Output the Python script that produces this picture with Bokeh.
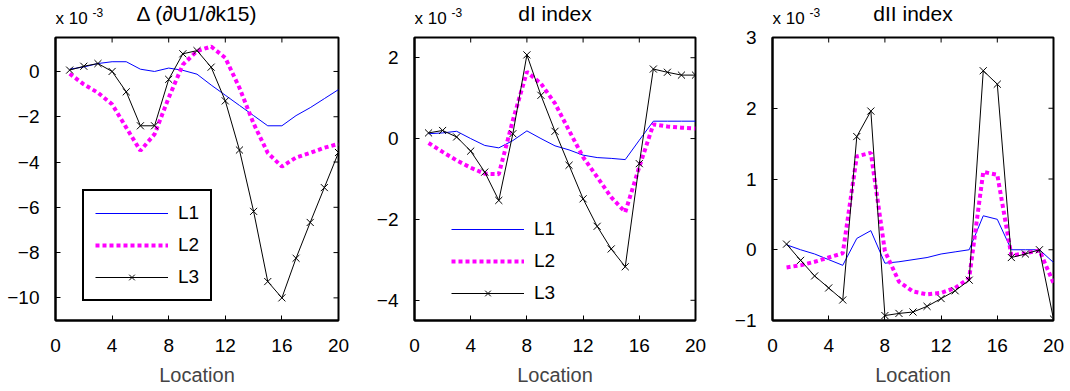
import math
from bokeh.plotting import figure
from bokeh.models import Range1d, FixedTicker
from bokeh.layouts import row, column
from bokeh.core.properties import value
from bokeh.embed import file_html
from bokeh.resources import INLINE

FONT = "Liberation Sans"

location = list(range(1, 21))
x_ticks = [0, 4, 8, 12, 16, 20]

titles = ["\u0394 (\u2202U1/\u2202k15)", "dI index", "dII index"]
scale_text = "x 10"
scale_exp = "-3"
series_names = ["L1", "L2", "L3"]

# Panel 1 : Delta (dU1/dk15), values x 1e-3
p1_L1 = [0.1, 0.2, 0.35, 0.43, 0.43, 0.1, 0.0, 0.15, 0.05, -0.12, -0.6, -1.05, -1.5, -1.95, -2.4, -2.4, -1.95, -1.6, -1.2, -0.8]
p1_L2 = [-0.1, -0.57, -0.94, -1.45, -2.48, -3.5, -2.77, -1.16, 0.3, 0.9, 1.1, 0.6, -0.72, -2.3, -3.6, -4.2, -3.8, -3.6, -3.37, -3.2]
p1_L3 = [0.06, 0.23, 0.35, 0.0, -0.9, -2.4, -2.4, -0.35, 0.78, 0.92, 0.19, -1.3, -3.47, -6.18, -9.28, -10.0, -8.25, -6.67, -5.13, -3.58]

# Panel 2 : dI index
p2_L1 = [0.12, 0.14, 0.18, 0.0, -0.17, -0.23, -0.05, 0.19, 0.0, -0.18, -0.28, -0.41, -0.47, -0.49, -0.52, -0.04, 0.43, 0.43, 0.43, 0.43]
p2_L2 = [-0.11, -0.33, -0.54, -0.72, -0.87, -0.88, 0.45, 1.65, 1.36, 0.87, 0.2, -0.46, -0.95, -1.45, -1.82, -0.7, 0.35, 0.3, 0.27, 0.25]
p2_L3 = [0.14, 0.2, 0.04, -0.31, -0.83, -1.53, 0.12, 2.07, 1.07, 0.18, -0.66, -1.49, -2.17, -2.73, -3.17, -0.62, 1.72, 1.64, 1.57, 1.57]

# Panel 3 : dII index
p3_L1 = [0.07, 0.0, -0.06, -0.14, -0.22, 0.16, 0.27, -0.19, -0.17, -0.14, -0.11, -0.06, -0.03, 0.0, 0.48, 0.43, 0.0, 0.0, 0.0, -0.18]
p3_L2 = [-0.25, -0.22, -0.17, -0.11, -0.05, 1.32, 1.37, -0.02, -0.45, -0.59, -0.63, -0.61, -0.54, -0.4, 1.1, 1.06, -0.08, -0.05, -0.01, -0.47]
p3_L3 = [0.08, -0.15, -0.37, -0.54, -0.71, 1.6, 1.96, -0.93, -0.9, -0.88, -0.8, -0.69, -0.58, -0.43, 2.53, 2.34, -0.11, -0.06, 0.0, -0.98]

panels = [
    dict(L1=p1_L1, L2=p1_L2, L3=p1_L3, y_range=(-11, 1.5), y_ticks=[-10, -8, -6, -4, -2, 0],
         width=357, bl=55, br=19, legend="box", leg_loc=(27, 19)),
    dict(L1=p2_L1, L2=p2_L2, L3=p2_L3, y_range=(-4.5, 2.5), y_ticks=[-4, -2, 0, 2],
         width=357, bl=57, br=19, legend="plain", leg_loc=(26, 5)),
    dict(L1=p3_L1, L2=p3_L2, L3=p3_L3, y_range=(-1, 3), y_ticks=[-1, 0, 1, 2, 3],
         width=356, bl=58, br=17, legend=None, leg_loc=None),
]

HEADER_H = 28
FRAME_TOP = 37


def style_axis(ax, ticks):
    ax.ticker = FixedTicker(ticks=ticks)
    ax.major_tick_in = 5
    ax.major_tick_out = 0
    ax.minor_tick_in = 0
    ax.minor_tick_out = 0
    ax.axis_line_color = "black"
    ax.axis_line_width = 2
    ax.major_tick_line_color = "black"
    ax.major_tick_line_width = 1
    ax.major_label_text_font = FONT
    ax.major_label_text_font_size = "19px"
    ax.major_label_text_color = "black"


cols = []
for i, cfg in enumerate(panels):
    ymin, ymax = cfg["y_range"]
    xr = Range1d(0, 20)

    # header with the scale factor and the panel title (y counts pixels down from the top)
    h = figure(width=cfg["width"], height=HEADER_H, output_backend="svg", toolbar_location=None,
               title=None, x_range=xr, y_range=Range1d(HEADER_H, 0),
               x_axis_type=None, y_axis_type=None,
               min_border_left=cfg["bl"], min_border_right=cfg["br"],
               min_border_top=0, min_border_bottom=0)
    h.outline_line_color = None
    h.grid.visible = False
    h.text(x=[0], y=[18], text=[scale_text], text_font=value(FONT),
           text_font_size=value("17px"), text_baseline="middle", text_align="left",
           text_color="black")
    h.text(x=[0], y=[12], text=[scale_exp], x_offset=37, text_font=value(FONT),
           text_font_size=value("12px"), text_baseline="middle", text_align="left",
           text_color="black")
    h.text(x=[10], y=[13], text=[titles[i]], text_font=value(FONT),
           text_font_size=value("21px"), text_baseline="middle", text_align="center",
           text_color="black")

    p = figure(width=cfg["width"], height=391 - HEADER_H, output_backend="svg", toolbar_location=None,
               title=None, x_range=xr, y_range=Range1d(ymin, ymax),
               min_border_left=cfg["bl"], min_border_right=cfg["br"],
               min_border_top=FRAME_TOP - HEADER_H, min_border_bottom=71)
    p.outline_line_color = "black"
    p.outline_line_width = 2
    p.grid.visible = False

    style_axis(p.xaxis[0], x_ticks)
    style_axis(p.yaxis[0], cfg["y_ticks"])
    p.xaxis[0].major_label_standoff = 18
    p.yaxis[0].major_label_standoff = 16
    p.xaxis[0].axis_label = "Location"
    p.xaxis[0].axis_label_text_font = FONT
    p.xaxis[0].axis_label_text_font_style = "normal"
    p.xaxis[0].axis_label_text_font_size = "20px"
    p.xaxis[0].axis_label_standoff = 9

    # inward ticks on the top and right edges of the box
    top_t = x_ticks[1:-1]
    p.scatter(top_t, [ymax] * len(top_t), marker="dash", angle=math.pi / 2, size=10,
              line_color="black", line_width=1)
    p.scatter([20] * len(cfg["y_ticks"]), cfg["y_ticks"], marker="dash", size=10,
              line_color="black", line_width=1)

    kw1, kw2, kw3 = {}, {}, {}
    if cfg["legend"]:
        kw1 = dict(legend_label=series_names[0])
        kw2 = dict(legend_label=series_names[1])
        kw3 = dict(legend_label=series_names[2])

    p.line(location, cfg["L1"], line_color="#0000ff", line_width=1, **kw1)
    p.line(location, cfg["L2"], line_color="#ff00ff", line_width=4, line_dash="4 3", **kw2)
    p.line(location, cfg["L3"], line_color="black", line_width=1, **kw3)
    p.scatter(location, cfg["L3"], marker="x", size=10, line_color="black", line_width=1, **kw3)

    if cfg["legend"]:
        lg = p.legend[0]
        lg.location = cfg["leg_loc"]
        lg.glyph_width = 73
        lg.glyph_height = 20
        lg.label_height = 20
        lg.label_standoff = 10
        lg.spacing = 10
        lg.padding = 11
        lg.margin = 0
        lg.label_text_font = FONT
        lg.label_text_font_size = "19px"
        lg.label_text_color = "black"
        if cfg["legend"] == "box":
            lg.border_line_color = "black"
            lg.border_line_alpha = 1
            lg.border_line_width = 2
            lg.background_fill_color = "white"
            lg.background_fill_alpha = 1
        else:
            lg.border_line_alpha = 0
            lg.background_fill_alpha = 0

    cols.append(column(h, p))

layout = row(*cols)
open("out.html", "w").write(file_html(layout, INLINE))
